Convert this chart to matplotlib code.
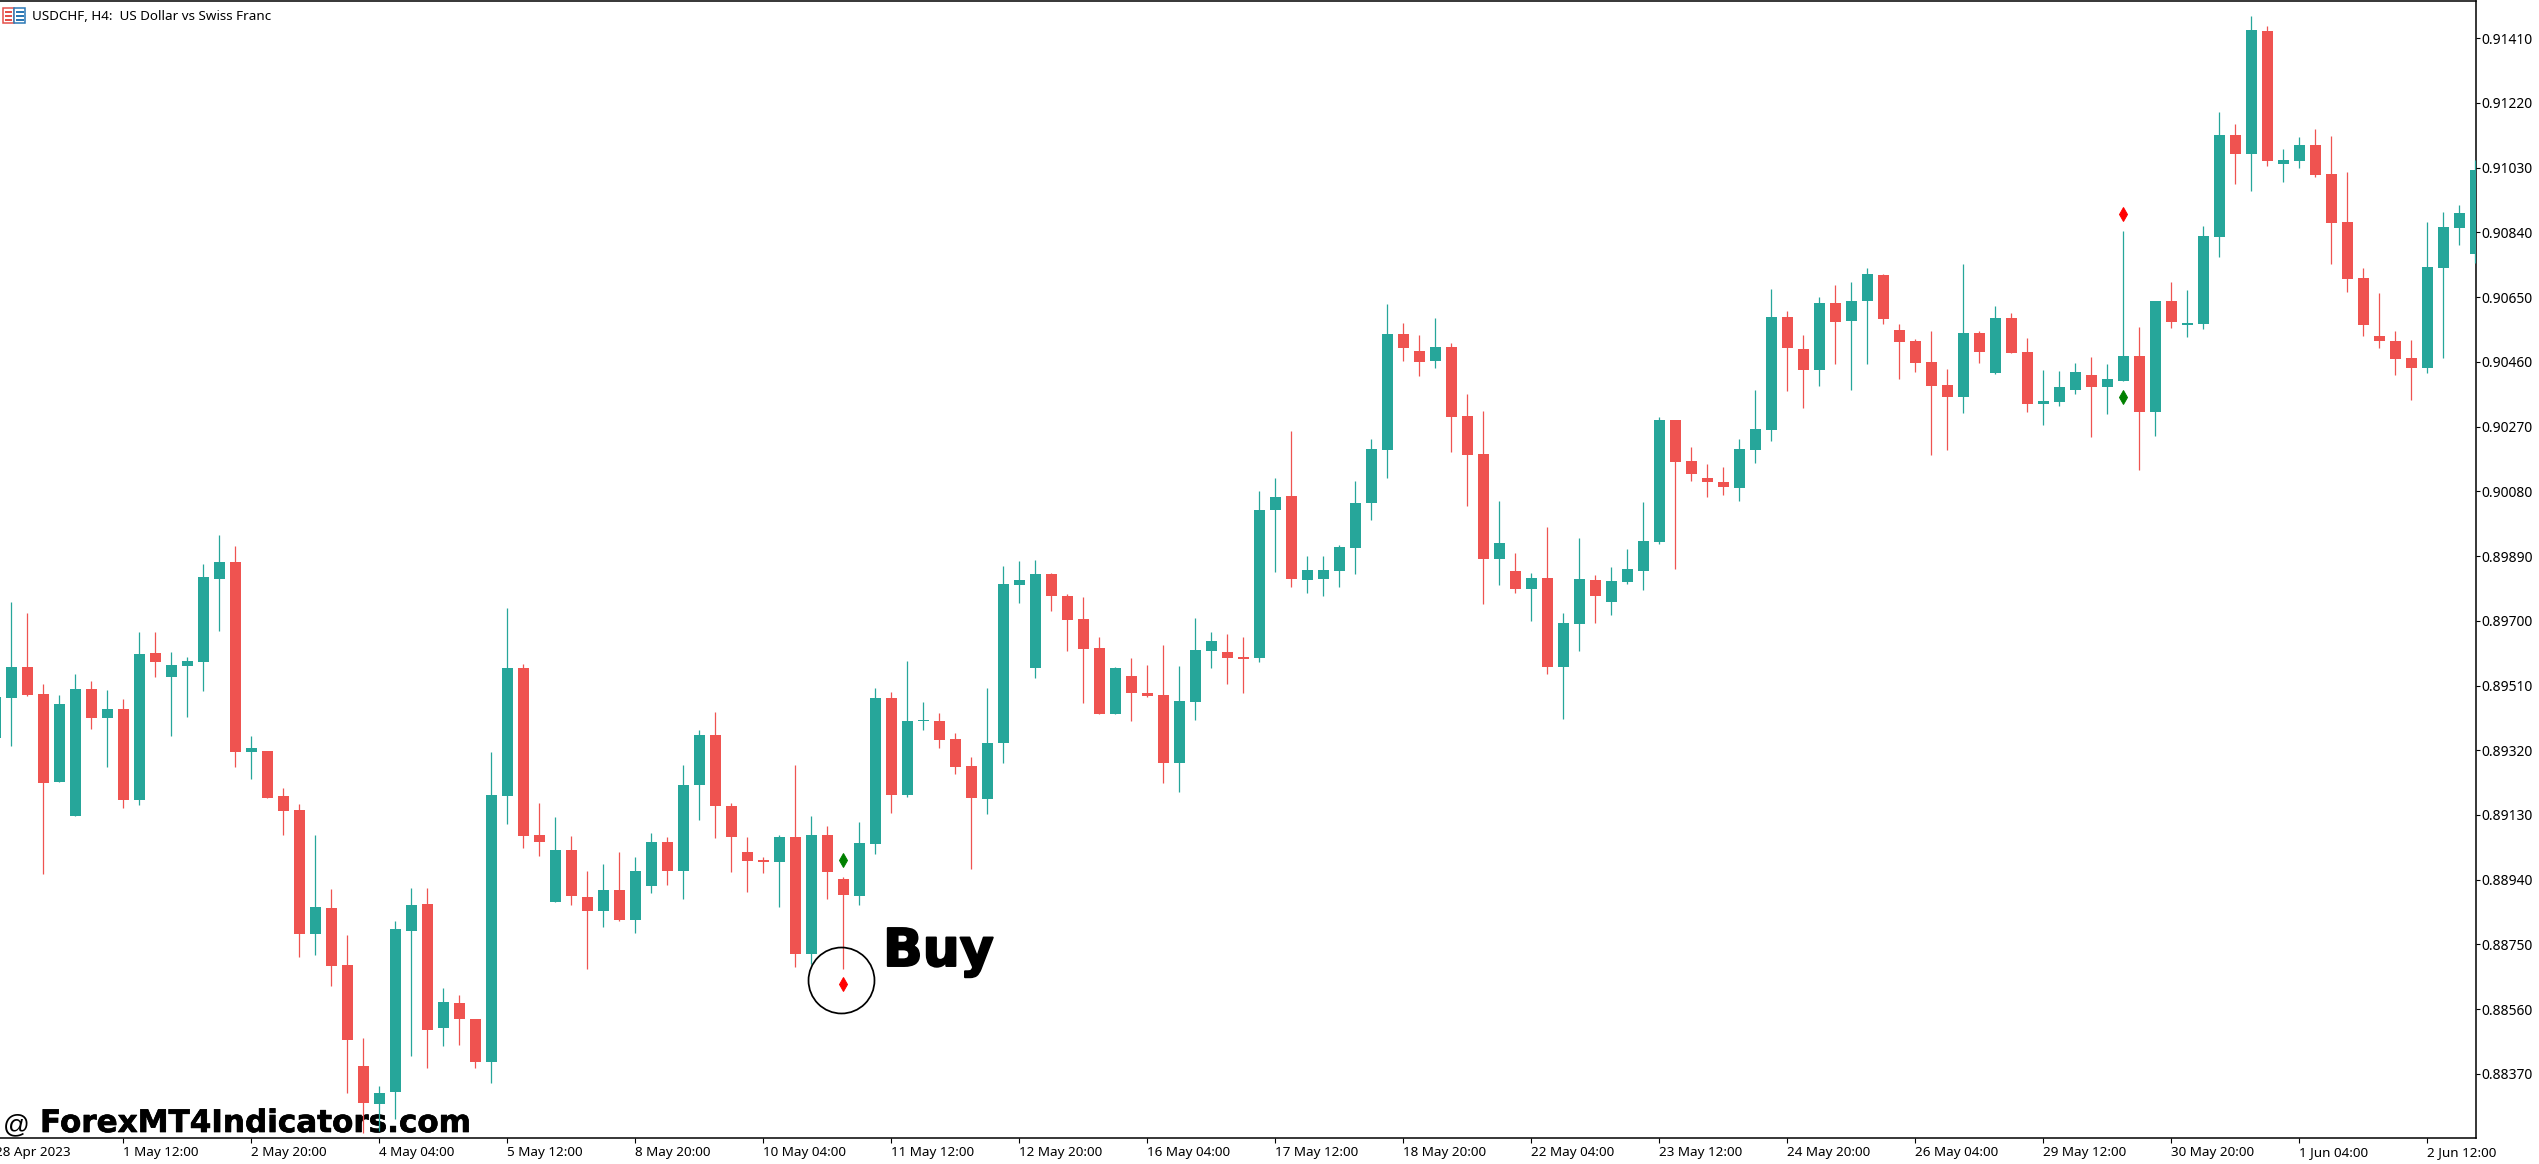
import numpy as np
import matplotlib
matplotlib.use("Agg")
import matplotlib.pyplot as plt
import matplotlib.patheffects as pe
from matplotlib.patches import Rectangle
from matplotlib.transforms import Affine2D

# Prices in points (1 point = 0.00001); first bar index is -1 (cut by the left edge)
first_bar = -1
high_pts = [
 89475,89754,89723,89514,89483,89544,89523,89497,89470,89667,
 89667,89608,89594,89866,89952,89919,89361,89318,89209,89162,
 89071,88912,88778,88476,88334,88819,88915,88915,88622,88602,
 88531,89315,89737,89573,89165,89124,89068,88965,88986,89021,
 89006,89076,89065,89277,89380,89432,89165,89065,89006,89072,
 89277,89126,89098,88948,89109,89503,89490,89581,89461,89430,
 89370,89300,89503,89860,89876,89879,89840,89779,89770,89653,
 89564,89590,89570,89628,89567,89708,89667,89661,89653,90081,
 90120,90257,89890,89890,89923,90110,90234,90629,90574,90538,
 90589,90515,90366,90315,90052,89900,89841,89975,89724,89944,
 89835,89858,89911,90048,90298,90289,90210,90160,90151,90234,
 90377,90673,90608,90538,90649,90685,90693,90735,90717,90571,
 90527,90550,90439,90746,90550,90623,90603,90530,90436,90433,
 90456,90474,90453,90843,90562,90638,90694,90670,90858,91192,
 91157,91476,91447,91084,91119,91142,91122,91016,90735,90661,
 90550,90524,90870,90899,90919,91051]
low_pts = [
 89357,89332,89480,88958,89228,89128,89382,89271,89151,89158,
 89534,89361,89417,89494,89670,89271,89235,89181,89071,88713,
 88718,88627,88314,88198,88203,88239,88424,88387,88452,88454,
 88386,88343,89104,89034,89009,88876,88866,88678,88800,88819,
 88783,88901,88925,88883,89116,89062,88962,88903,88959,88859,
 88683,88692,88883,88679,88866,89015,89135,89182,89380,89327,
 89250,88971,89132,89282,89751,89531,89729,89611,89458,89425,
 89425,89405,89475,89224,89197,89408,89561,89514,89488,89580,
 89843,89799,89782,89773,89799,89838,89996,90120,90462,90418,
 90442,90195,90037,89750,89805,89782,89700,89545,89411,89612,
 89694,89717,89809,89791,89926,89852,90110,90063,90069,90052,
 90163,90227,90374,90325,90389,90454,90377,90454,90571,90409,
 90431,90187,90201,90311,90457,90425,90486,90313,90275,90331,
 90365,90240,90308,90404,90143,90243,90559,90533,90556,90767,
 90981,90960,91035,90987,91028,91003,90746,90664,90536,90501,
 90421,90349,90428,90472,90802,90749]
open_pts = [
 89357,89474,89564,89485,89228,89128,89500,89415,89441,89175,
 89605,89535,89568,89580,89824,89873,89314,89318,89185,89145,
 88782,88856,88689,88393,88283,88316,88790,88869,88506,88577,
 88531,88406,89187,89561,89071,88876,89026,88889,88849,88909,
 88823,88923,89051,88966,89217,89364,89156,89021,88998,88991,
 89065,88723,89071,88942,88893,89046,89473,89189,89405,89405,
 89352,89274,89178,89340,89804,89560,89837,89773,89706,89620,
 89425,89538,89488,89483,89284,89463,89610,89608,89594,89590,
 90025,90066,89821,89824,89847,89915,90047,90202,90541,90491,
 90463,90503,90301,90190,89880,89846,89792,89826,89564,89692,
 89820,89756,89815,89847,89932,90289,90169,90120,90107,90091,
 90202,90261,90591,90497,90437,90633,90580,90639,90714,90553,
 90521,90459,90392,90358,90544,90428,90588,90488,90337,90343,
 90378,90421,90387,90404,90477,90313,90638,90569,90572,90827,
 91125,91070,91430,91041,91049,91095,91010,90870,90705,90535,
 90521,90471,90442,90736,90853,90777]
close_pts = [
 89475,89564,89483,89225,89455,89500,89415,89441,89175,89603,
 89580,89570,89581,89829,89873,89314,89327,89181,89142,88782,
 88859,88688,88470,88286,88314,88795,88866,88500,88580,88530,
 88406,89188,89561,89069,89052,89026,88891,88849,88909,88823,
 88965,89051,88966,89218,89364,89155,89064,88996,88991,89065,
 88723,89071,88963,88896,89048,89473,89189,89405,89408,89351,
 89272,89181,89341,89807,89820,89837,89774,89703,89616,89425,
 89561,89487,89480,89284,89464,89614,89640,89591,89588,90025,
 90063,89824,89849,89849,89916,90046,90204,90541,90502,90460,
 90503,90299,90188,89880,89929,89792,89826,89564,89694,89823,
 89774,89817,89852,89934,90289,90167,90132,90106,90093,90204,
 90263,90591,90502,90437,90633,90577,90638,90717,90585,90519,
 90457,90390,90358,90544,90489,90588,90486,90337,90345,90386,
 90430,90387,90409,90477,90313,90638,90577,90574,90829,91125,
 91070,91433,91049,91051,91095,91008,90868,90703,90569,90522,
 90469,90442,90738,90855,90896,91022]
POINT = 1e-5

# Indicator diamonds (bar, price)
red_signal_bars = [52, 132]
red_signal_prices = [0.88633, 0.90895]
green_signal_bars = [52, 132]
green_signal_prices = [0.88999, 0.90358]
# Hand-drawn style ring round the buy signal
ring_bar = [51.87]
ring_price = [0.88647]

y_ticks = [0.91410,0.91220,0.91030,0.90840,0.90650,0.90460,0.90270,0.90080,0.89890,
           0.89700,0.89510,0.89320,0.89130,0.88940,0.88750,0.88560,0.88370]
x_tick_bars = [7,15,23,31,39,47,55,63,71,79,87,95,103,111,119,127,135,143,151]
x_tick_labels = ["1 May 12:00","2 May 20:00","4 May 04:00","5 May 12:00","8 May 20:00",
                 "10 May 04:00","11 May 12:00","12 May 20:00","16 May 04:00","17 May 12:00",
                 "18 May 20:00","22 May 04:00","23 May 12:00","24 May 20:00","26 May 04:00",
                 "29 May 12:00","30 May 20:00","1 Jun 04:00","2 Jun 12:00"]

TEAL = "#26A69A"
RED = "#EF5350"
W, H = 2539, 1164
FONT = "Noto Sans"

fig = plt.figure(figsize=(W/100, H/100), dpi=100, facecolor="white")
ax = fig.add_axes([0, (H-1138)/H, 2476/W, (1138-1)/H])
ax.set_xlim(-11.4/16, (2476-11.4)/16)
ax.set_ylim(0.88182, 0.91519)

bars = np.arange(len(high_pts)) + first_bar
hi, lo = np.array(high_pts)*POINT, np.array(low_pts)*POINT
op, cl = np.array(open_pts)*POINT, np.array(close_pts)*POINT
up = cl >= op
colors = np.where(up, TEAL, RED)

ax.vlines(bars, lo, hi, colors=colors, linewidth=0.9, zorder=3)
heights = np.maximum(np.abs(cl-op), 0.00003)
ax.bar(bars, heights, bottom=np.minimum(op, cl), width=11/16, color=colors, linewidth=0, zorder=4)

ax.plot(red_signal_bars, red_signal_prices, ls="none", marker="d", ms=7.6, color="#FF0000",
        mec="#FF0000", mew=0.7, zorder=5)
ax.plot(green_signal_bars, green_signal_prices, ls="none", marker="d", ms=7.6, color="#008000",
        mec="#008000", mew=0.7, zorder=5)
ax.plot(ring_bar, ring_price, ls="none", marker="o", ms=47.5, mfc="none", mec="black", mew=1.25, zorder=6)

ax.spines["left"].set_visible(False)
for s in ("top", "right", "bottom"):
    ax.spines[s].set_color("black")
    ax.spines[s].set_linewidth(1.1)

ax.yaxis.tick_right()
ax.set_yticks(y_ticks)
ax.set_yticklabels([f"{v:.5f}" for v in y_ticks], fontsize=10, family=FONT, color="black")
ax.tick_params(axis="y", length=2.9, width=0.8, pad=1.0)
ax.set_xticks(x_tick_bars)
ax.set_xticklabels(x_tick_labels, fontsize=9.7, family=FONT, color="black", ha="left")
ax.tick_params(axis="x", length=3.6, width=0.8, pad=2.4)
ax.annotate("28 Apr 2023", xy=(first_bar, 0), xycoords=ax.get_xaxis_transform(),
            xytext=(0, -6), textcoords="offset points", ha="left", va="top",
            fontsize=9.7, family=FONT, color="black", annotation_clip=False)

# Pixel transform (origin top left) for screen-fixed furniture
px = Affine2D().scale(1, -1).translate(0, H)

ax.text(31.5, 17, "USDCHF, H4:  US Dollar vs Swiss Franc", transform=px, fontsize=9.7, family=FONT,
        va="center", ha="left", color="black", clip_on=False, zorder=7)
for x0, w, c in ((3, 10.5, "#E4504A"), (14, 11, "#2B78B5")):
    ax.add_patch(Rectangle((x0, 7.5), w, 15.5, transform=px, fc="white", ec=c, lw=1.1, clip_on=False, zorder=7))
    for y0 in (11.5, 15.5, 19.5):
        ax.add_patch(Rectangle((x0+1.5, y0-1), w-3, 2, transform=px, fc=c, ec="none", clip_on=False, zorder=7))

ax.text(3, 1132, "@", transform=px, fontsize=19, family="Liberation Sans", color="black",
        va="baseline", ha="left", clip_on=False, zorder=1)
ax.text(40, 1132, "ForexMT4Indicators.com", transform=px, fontsize=22.35, family="DejaVu Sans",
        fontweight="bold", color="black", va="baseline", ha="left", clip_on=False, zorder=1,
        path_effects=[pe.withStroke(linewidth=0.5, foreground="black")])
ax.text(883, 966, "Buy", transform=px, fontsize=37.5, family="DejaVu Sans", fontweight="bold",
        color="black", va="baseline", ha="left", clip_on=False, zorder=7,
        path_effects=[pe.withStroke(linewidth=1.4, foreground="black")])

fig.savefig("out.png", dpi=100, facecolor="white")
